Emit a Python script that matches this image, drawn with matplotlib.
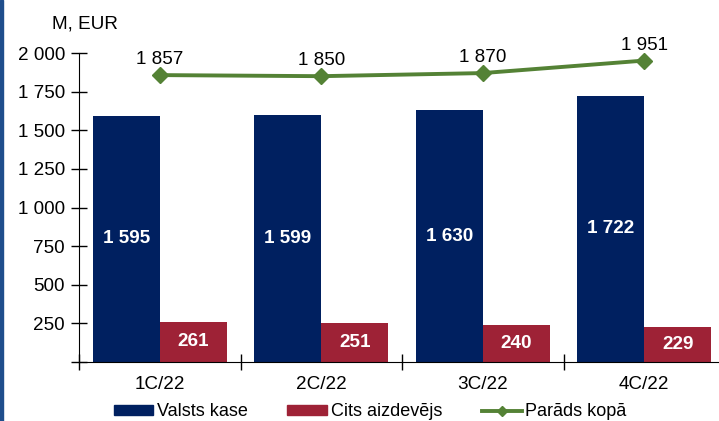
import matplotlib.pyplot as plt
from matplotlib.patches import Rectangle, Patch
from matplotlib.lines import Line2D

plt.rcParams['font.family'] = ['Liberation Sans', 'DejaVu Sans']

quarters = ['1C/22', '2C/22', '3C/22', '4C/22']
valsts_kase = [1595, 1599, 1630, 1722]
cits_aizdevejs = [261, 251, 240, 229]
parads_kopa = [1857, 1850, 1870, 1951]

navy = '#002060'
red = '#9E2236'
green = '#548235'
fs = 13.6


def fmt(v):
    return f'{v:,.0f}'.replace(',', ' ')


fig = plt.figure(figsize=(7.19, 4.21), dpi=100)
ax = fig.add_axes([79 / 719, 59 / 421, 646 / 719, 309 / 421])

x = list(range(len(quarters)))
w = 0.415
ax.bar([i - w / 2 for i in x], valsts_kase, width=w, color=navy)
ax.bar([i + w / 2 for i in x], cits_aizdevejs, width=w, color=red)
ax.plot(x, parads_kopa, color=green, lw=2.8, marker='D', ms=8.5, zorder=3)

for i in x:
    ax.text(i - w / 2, valsts_kase[i] / 2, fmt(valsts_kase[i]), ha='center', va='center',
            color='white', fontsize=fs, fontweight='bold')
    ax.text(i + w / 2, cits_aizdevejs[i] / 2, fmt(cits_aizdevejs[i]), ha='center', va='center',
            color='white', fontsize=fs, fontweight='bold')
    ax.annotate(fmt(parads_kopa[i]), (i, parads_kopa[i]), xytext=(0, 5), textcoords='offset points',
                ha='center', va='bottom', fontsize=fs)

ax.set_xlim(-0.5, 3.5)
ax.set_ylim(0, 2000)
ax.set_yticks(range(0, 2001, 250))
ax.set_yticklabels(['' if v == 0 else fmt(v) for v in range(0, 2001, 250)], fontsize=fs)
ax.set_xticks([-0.5, 0.5, 1.5, 2.5, 3.5])
ax.set_xticklabels([])
ax.set_xticks(x, minor=True)
ax.set_xticklabels(quarters, minor=True, fontsize=fs)
ax.tick_params(axis='x', which='minor', length=0, pad=10)
ax.tick_params(axis='both', which='major', direction='inout', length=12, width=1)
ax.tick_params(axis='y', pad=4)
for s in ['top', 'right']:
    ax.spines[s].set_visible(False)

fig.text(85 / 719, 1 - 24 / 421, 'M, EUR', ha='center', va='center', fontsize=fs)

handles = [Patch(color=navy), Patch(color=red),
           Line2D([], [], color=green, lw=2.8, marker='D', ms=5)]
fig.legend(handles, ['Valsts kase', 'Cits aizdevējs', 'Parāds kopā'], ncol=3,
           loc='center', bbox_to_anchor=(370 / 719, 9 / 421), frameon=False,
           fontsize=13, handlelength=2.2, handleheight=0.5, handletextpad=0.2,
           columnspacing=2.2, borderpad=0)

fig.add_artist(Rectangle((0, 0), 3 / 719, 1, transform=fig.transFigure, color='#1F4E8C'))

fig.savefig('out.png', dpi=100)
